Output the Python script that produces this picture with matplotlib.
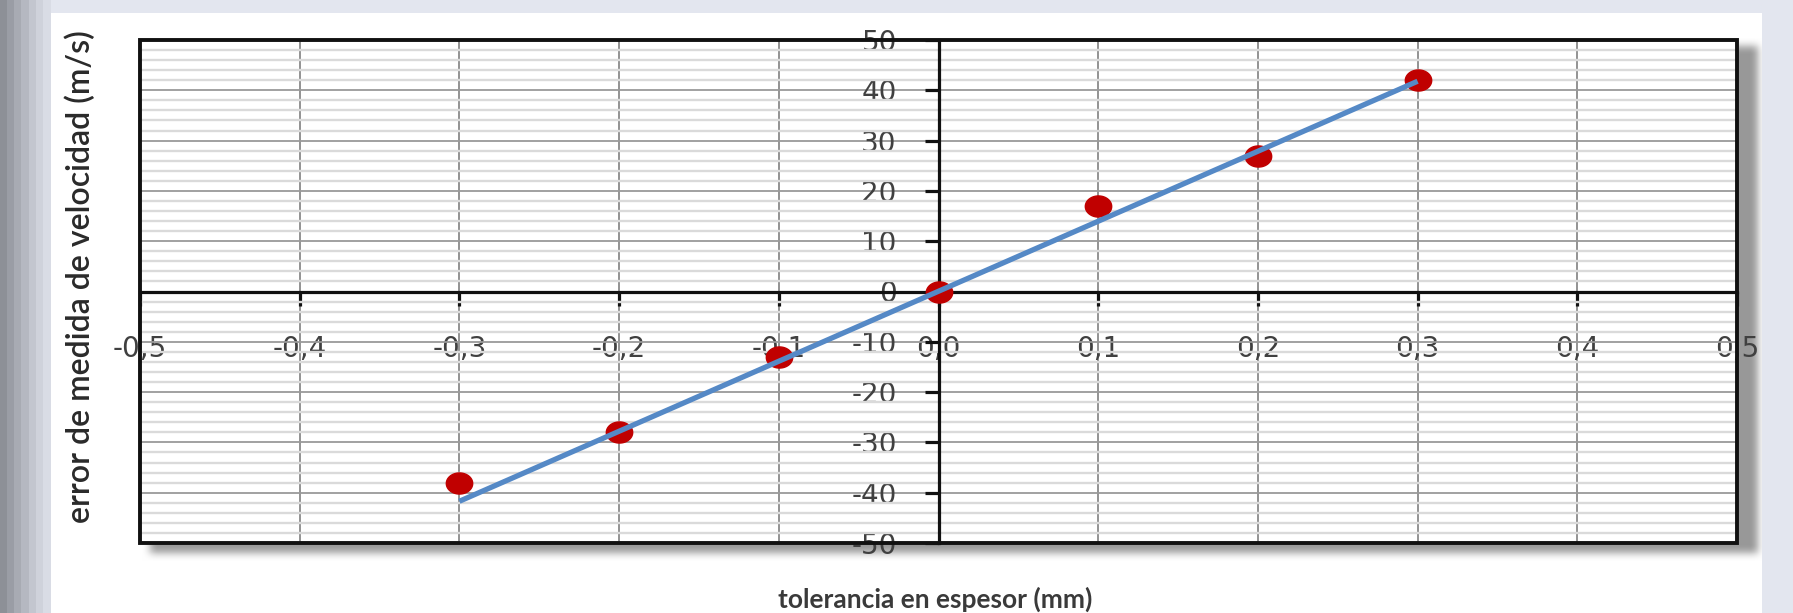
import matplotlib
matplotlib.use("Agg")
import matplotlib.pyplot as plt
import numpy as np
from matplotlib.patches import Rectangle
from matplotlib.path import Path

# data
tolerancia = [-0.3, -0.2, -0.1, 0.0, 0.1, 0.2, 0.3]
error_vel = [-38, -28, -13, 0, 17, 27, 42]
trend_x = [-0.3, 0.3]
trend_y = [-41.7, 41.8]

x_ticks = [-0.5, -0.4, -0.3, -0.2, -0.1, 0.0, 0.1, 0.2, 0.3, 0.4, 0.5]
x_ticklabels = ["-0,5", "-0,4", "-0,3", "-0,2", "-0,1", "0,0",
                "0,1", "0,2", "0,3", "0,4", "0,5"]
y_ticks = [50, 40, 30, 20, 10, 0, -10, -20, -30, -40, -50]
y_ticklabels = ["50", "40", "30", "20", "10", "0",
                "-10", "-20", "-30", "-40", "-50"]
y_minor = [v for v in range(-50, 51, 2) if v % 10]

W, H = 1793, 613
plt.rcParams["axes.unicode_minus"] = False
fig = plt.figure(figsize=(W / 100, H / 100), dpi=100)


def box_blur(a, k):
    # separable box blur, used for the drop shadow
    kern = np.ones(k) / k
    a = np.apply_along_axis(lambda r: np.convolve(r, kern, mode="same"), 1, a)
    return np.apply_along_axis(lambda c: np.convolve(c, kern, mode="same"), 0, a)


# backdrop: slide background, grey stripes on the left, white panel, shadow
bg = np.empty((H, W, 3))
bg[:] = np.array([0xe3, 0xe6, 0xef]) / 255
stripes = ["#8d9097", "#9a9da5", "#a8abb3", "#b5b8c1", "#c3c6cf", "#cfd2db", "#d9dce5"]
for i, c in enumerate(stripes):
    bg[:, int(i * 7.3):int((i + 1) * 7.3)] = matplotlib.colors.to_rgb(c)
bg[13:, 51:1762] = 1.0
mask = np.zeros((H, W))
mask[46:553, 150:1758] = 1
mask = box_blur(box_blur(mask, 9), 9) * 0.40
mask[:, 1762:] = 0
mask[:13] = 0
bg = bg * (1 - mask[..., None])

back = fig.add_axes([0, 0, 1, 1], zorder=-2)
back.imshow(bg, extent=(0, W, H, 0), interpolation="nearest", aspect="auto")
back.axis("off")

ax = fig.add_axes([140 / W, (H - 543) / H, (1737 - 140) / W, (543 - 40) / H])
ax.set_facecolor("white")
ax.set_xlim(-0.5, 0.5)
ax.set_ylim(-50, 50)

ax.spines[["top", "right"]].set_visible(False)
for s in ["left", "bottom"]:
    ax.spines[s].set_position("zero")
    ax.spines[s].set_linewidth(2.3)
    ax.spines[s].set_color("#111111")
ax.add_patch(Rectangle((0, 0), 1, 1, transform=ax.transAxes, fill=False,
                       lw=2.8, ec="#111111", zorder=6, clip_on=False))

ax.set_xticks(x_ticks, x_ticklabels)
ax.set_yticks(y_ticks, y_ticklabels)
ax.set_yticks(y_minor, minor=True)
ax.tick_params(which="major", direction="out", length=10, width=2.3,
               color="#111111", labelsize=20, labelcolor="#404040")
ax.tick_params(which="minor", length=0)
ax.tick_params(axis="y", pad=20)
ax.tick_params(axis="x", pad=21)

ax.set_axisbelow(True)
ax.grid(axis="x", which="major", color="#8a8a8a", lw=1.3)
ax.grid(axis="y", which="major", color="#9a9a9a", lw=1.3)
ax.grid(axis="y", which="minor", color="#dadada", lw=1.7)

# Excel-style slightly stretched dots
t = np.linspace(0, 2 * np.pi, 60)
ellipse = Path(np.column_stack([1.25 * np.cos(t), np.sin(t)]), closed=True)
ax.plot(tolerancia, error_vel, ls="none", marker=ellipse, ms=19,
        color="#c00000", zorder=4)
ax.plot(trend_x, trend_y, color="#5589c6", lw=3.8, zorder=5,
        solid_capstyle="butt")

fig.text(935 / W, 1 - 599 / H, "tolerancia en espesor (mm)", ha="center",
         va="center", fontsize=19, fontweight="bold", color="#3a3a3a",
         family="Lato")
fig.text(81 / W, 1 - 277 / H, "error de medida de velocidad (m/s)",
         rotation=90, ha="center", va="center", fontsize=23,
         fontweight="semibold", color="#2a2a2a", family="Lato")

fig.savefig("out.png", dpi=100)
